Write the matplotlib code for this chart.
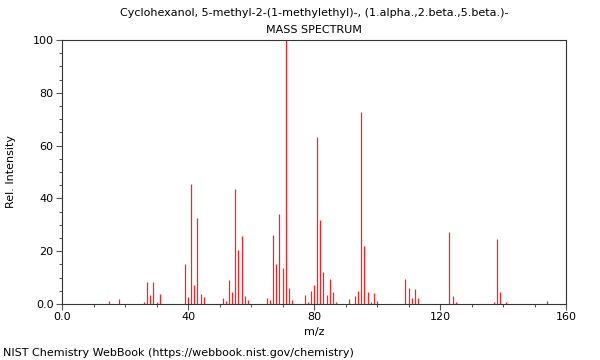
import matplotlib
matplotlib.use("Agg")
import matplotlib.pyplot as plt
from matplotlib.ticker import MultipleLocator, FixedLocator

title_line1 = "Cyclohexanol, 5-methyl-2-(1-methylethyl)-, (1.alpha.,2.beta.,5.beta.)-"
title_line2 = "MASS SPECTRUM"
footer = "NIST Chemistry WebBook (https://webbook.nist.gov/chemistry)"

mz = [15, 18, 26, 27, 28, 29, 30, 31, 39, 40, 41, 42, 43, 44, 45,
      51, 52, 53, 54, 55, 56, 57, 58, 59, 65, 66, 67, 68, 69, 70,
      71, 72, 73, 77, 78, 79, 80, 81, 82, 83, 84, 85, 86, 87,
      91, 93, 94, 95, 96, 97, 98, 99, 100, 109, 110, 111, 112, 113,
      123, 124, 125, 137, 138, 139, 141, 154]
intensity = [1.0, 1.8, 0.7, 8.3, 3.4, 8.3, 0.6, 3.8, 15.0, 2.6, 45.4, 7.1, 32.7, 3.9, 2.6,
             2.2, 1.1, 9.1, 4.4, 43.4, 20.5, 25.8, 3.0, 1.5, 2.3, 1.5, 26.0, 15.1, 34.1, 13.7,
             100.0, 6.1, 1.5, 3.4, 0.9, 5.1, 7.2, 63.1, 31.8, 12.2, 3.4, 9.3, 4.5, 0.8,
             2.0, 3.2, 5.1, 72.7, 21.8, 4.5, 0.8, 4.0, 1.1, 9.6, 6.1, 2.3, 5.6, 2.3,
             27.1, 3.0, 0.9, 0.9, 24.6, 4.5, 0.9, 1.0]

x_major = [0, 40, 80, 120, 160]
x_labels = ["0.0", "40", "80", "120", "160"]
y_major = [0, 20, 40, 60, 80, 100]
y_labels = ["0.0", "20", "40", "60", "80", "100"]

plt.rcParams['font.family'] = ['DejaVu Sans']
fig = plt.figure(figsize=(6, 3.6), dpi=100)
ax = fig.add_axes([62/600, 1-304/360, 504/600, 264/360])

ax.vlines(mz, 0, intensity, colors='#ff2020', linewidth=0.9)

ax.set_xlim(0, 160)
ax.set_ylim(0, 100)
ax.xaxis.set_major_locator(FixedLocator(x_major))
ax.set_xticklabels(x_labels)
ax.xaxis.set_minor_locator(MultipleLocator(10))
ax.yaxis.set_major_locator(FixedLocator(y_major))
ax.set_yticklabels(y_labels)
ax.yaxis.set_minor_locator(MultipleLocator(5))
ax.tick_params(which='major', length=4, width=0.8, labelsize=8, color='#555555', pad=2)
ax.tick_params(which='minor', length=2.5, width=0.6, color='#333333')
for s in ax.spines.values():
    s.set_linewidth(0.8)
    s.set_color('#333333')

ax.set_xlabel("m/z", fontsize=8, labelpad=3)
ax.set_ylabel("Rel. Intensity", fontsize=8, labelpad=12)

fig.text(314/600, 1-13/360, title_line1, ha='center', va='center', fontsize=8)
fig.text(314/600, 1-30/360, title_line2, ha='center', va='center', fontsize=8)
fig.text(3/600, 1-353/360, footer, ha='left', va='center', fontsize=8)

fig.savefig("out.png", dpi=100)
